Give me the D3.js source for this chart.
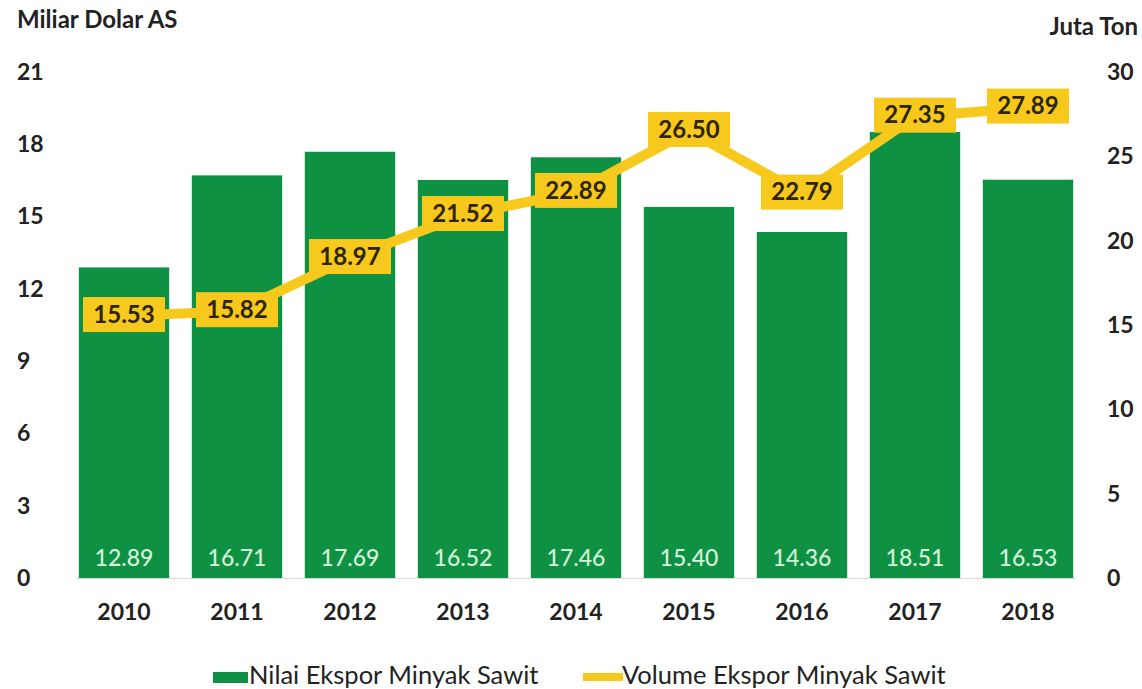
<!DOCTYPE html>
<html>
<head>
<meta charset="utf-8">
<script src="https://cdn.jsdelivr.net/npm/d3@7/dist/d3.min.js"></script>
<style>
  html, body { margin: 0; padding: 0; background: #fff; }
  svg { display: block; font-family: Lato, "Open Sans", sans-serif; }
</style>
</head>
<body>
<svg id="chart" width="1142" height="689"></svg>
<script>
// Palm oil export: value (billion USD) and volume (million tonnes)
const years = ["2010", "2011", "2012", "2013", "2014", "2015", "2016", "2017", "2018"];
const exportValue = [12.89, 16.71, 17.69, 16.52, 17.46, 15.40, 14.36, 18.51, 16.53];
const exportVolume = [15.53, 15.82, 18.97, 21.52, 22.89, 26.50, 22.79, 27.35, 27.89];
const leftTicks = [0, 3, 6, 9, 12, 15, 18, 21];
const rightTicks = [0, 5, 10, 15, 20, 25, 30];
const seriesNames = ["Nilai Ekspor Minyak Sawit", "Volume Ekspor Minyak Sawit"];

const GREEN = "#0f9143";
const YELLOW = "#f6c91c";
const INK = "#222";

const svg = d3.select("#chart");

const x = d3.scaleBand().domain(years).range([67.5, 1084.5]).paddingInner(0.2).paddingOuter(0.1);
const yL = d3.scaleLinear().domain([0, 21]).range([578, 72]);
const yR = d3.scaleLinear().domain([0, 30]).range([578, 72]);

// Axis titles
svg.append("text").attr("x", 17).attr("y", 28)
  .attr("font-size", 24).attr("font-weight", 700).attr("fill", INK)
  .text("Miliar Dolar AS");
svg.append("text").attr("x", 1138).attr("y", 35).attr("text-anchor", "end")
  .attr("font-size", 24).attr("font-weight", 700).attr("fill", INK)
  .text("Juta Ton");

// Left axis tick labels
const leftAxis = d3.axisLeft(yL).tickValues(leftTicks).tickSize(0).tickPadding(0);
const gL = svg.append("g").attr("transform", "translate(17,0)").call(leftAxis);
gL.select(".domain").remove();
gL.selectAll("text").attr("text-anchor", "start").attr("x", 0)
  .attr("font-size", 23).attr("font-weight", 700).attr("fill", INK)
  .attr("font-family", "Lato, sans-serif");

// Right axis tick labels
const rightAxis = d3.axisRight(yR).tickValues(rightTicks).tickSize(0).tickPadding(0);
const gR = svg.append("g").attr("transform", "translate(1107,0)").call(rightAxis);
gR.select(".domain").remove();
gR.selectAll("text").attr("x", 0)
  .attr("font-size", 23).attr("font-weight", 700).attr("fill", INK)
  .attr("font-family", "Lato, sans-serif");

// Bars
svg.append("g").selectAll("rect").data(years).join("rect")
  .attr("x", d => x(d))
  .attr("width", x.bandwidth())
  .attr("y", (d, i) => yL(exportValue[i]))
  .attr("height", (d, i) => yL(0) - yL(exportValue[i]))
  .attr("fill", GREEN);

// Baseline
svg.append("line").attr("x1", 77).attr("x2", 1075)
  .attr("y1", yL(0) + 0.5).attr("y2", yL(0) + 0.5)
  .attr("stroke", "#d9d9d9").attr("stroke-width", 1);

// Bar value labels
svg.append("g").selectAll("text").data(years).join("text")
  .attr("x", d => x(d) + x.bandwidth() / 2)
  .attr("y", 566)
  .attr("text-anchor", "middle")
  .attr("font-size", 23).attr("font-weight", 500).attr("fill", "#d4f3da")
  .text((d, i) => exportValue[i].toFixed(2));

// X axis labels
const xAxis = d3.axisBottom(x).tickSize(0).tickPadding(0);
const gX = svg.append("g").attr("transform", "translate(0,620)").call(xAxis);
gX.select(".domain").remove();
gX.selectAll("text").attr("dy", 0)
  .attr("font-size", 23).attr("font-weight", 700).attr("fill", INK)
  .attr("font-family", "Lato, sans-serif");

// Volume line
const line = d3.line()
  .x((d, i) => x(years[i]) + x.bandwidth() / 2)
  .y(d => yR(d));
svg.append("path").datum(exportVolume)
  .attr("d", line)
  .attr("fill", "none").attr("stroke", YELLOW)
  .attr("stroke-width", 10).attr("stroke-linejoin", "miter");

// Volume labels in yellow boxes
const lbl = svg.append("g").selectAll("g").data(exportVolume).join("g")
  .attr("transform", (d, i) => `translate(${x(years[i]) + x.bandwidth() / 2},${yR(d) - 2})`);
lbl.append("rect").attr("x", -41).attr("y", -17).attr("width", 82).attr("height", 35)
  .attr("fill", YELLOW);
lbl.append("text").attr("text-anchor", "middle").attr("dy", "0.36em")
  .attr("font-size", 24).attr("font-weight", 700).attr("fill", "#2e2406")
  .text(d => d.toFixed(2));

// Legend
const leg = svg.append("g");
leg.append("rect").attr("x", 213).attr("y", 672).attr("width", 35).attr("height", 11).attr("fill", GREEN);
leg.append("text").attr("x", 249).attr("y", 684).attr("font-size", 25.5).attr("fill", INK)
  .text(seriesNames[0]);
leg.append("line").attr("x1", 583).attr("x2", 623).attr("y1", 677).attr("y2", 677)
  .attr("stroke", YELLOW).attr("stroke-width", 8);
leg.append("text").attr("x", 622).attr("y", 684).attr("font-size", 25.5).attr("fill", INK)
  .text(seriesNames[1]);
</script>
</body>
</html>
